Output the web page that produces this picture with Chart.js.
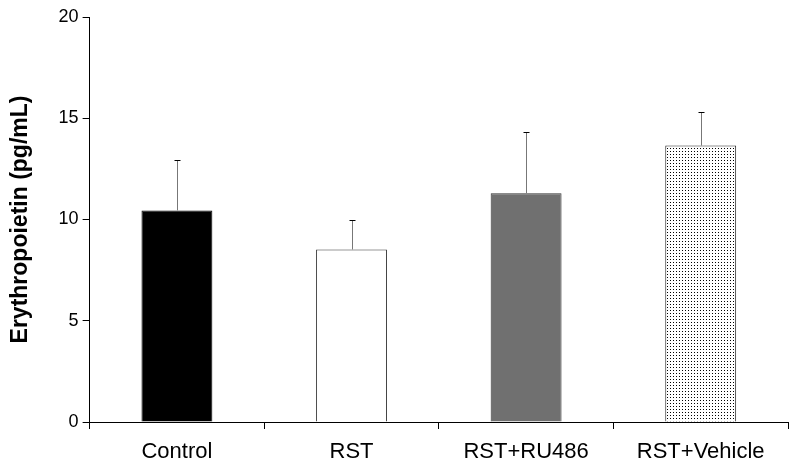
<!DOCTYPE html>
<html>
<head>
<meta charset="utf-8">
<script src="https://cdn.jsdelivr.net/npm/chart.js@4"></script>
<style>
  body { margin: 0; background: #fff; }
  #wrap { width: 797px; height: 467px; }
</style>
</head>
<body>
<div id="wrap"><canvas id="chart"></canvas></div>
<script>
var groups = ["Control", "RST", "RST+RU486", "RST+Vehicle"];
var means = [10.45, 8.52, 11.3, 13.65];
var errors = [2.5, 1.45, 3.02, 1.65];
var yTicks = [0, 5, 10, 15, 20];

// dotted fill for the last bar
function dots() {
  var c = document.createElement("canvas");
  c.width = 3; c.height = 3;
  var g = c.getContext("2d");
  g.fillStyle = "#fff";
  g.fillRect(0, 0, 3, 3);
  g.fillStyle = "#000";
  g.fillRect(1, 1, 1, 1);
  return g.createPattern(c, "repeat");
}
var ctx = document.getElementById("chart").getContext("2d");
var fills = ["#000000", "#ffffff", "#707070", dots()];

var errorBars = {
  id: "errorBars",
  afterDatasetsDraw: function(chart) {
    var c = chart.ctx;
    var meta = chart.getDatasetMeta(0);
    var y = chart.scales.y;
    c.save();
    c.lineWidth = 1;
    meta.data.forEach(function(bar, i) {
      var x = Math.round(bar.x) + 0.5;
      var yTop = Math.round(y.getPixelForValue(means[i] + errors[i])) + 0.5;
      var yBase = y.getPixelForValue(means[i]);
      c.strokeStyle = "#777";
      c.beginPath();
      c.moveTo(x, yBase);
      c.lineTo(x, yTop);
      c.stroke();
      c.strokeStyle = "#000";
      c.beginPath();
      c.moveTo(x - 3, yTop);
      c.lineTo(x + 3, yTop);
      c.stroke();
    });
    c.restore();
  }
};

new Chart(ctx, {
  type: "bar",
  data: {
    labels: groups,
    datasets: [{
      data: means,
      backgroundColor: fills,
      borderColor: ["#000", "#333", "#333", "#222"],
      borderWidth: 1,
      barPercentage: 0.406,
      categoryPercentage: 1.0
    }]
  },
  options: {
    responsive: true,
    maintainAspectRatio: false,
    animation: false,
    layout: { padding: { top: 17, right: 9, left: 7, bottom: 0 } },
    plugins: {
      legend: { display: false },
      tooltip: { enabled: false }
    },
    scales: {
      x: {
        grid: { drawOnChartArea: false, color: "#000", tickLength: 7, offset: true },
        border: { color: "#000", width: 1 },
        ticks: { color: "#000", font: { family: "Liberation Sans, Arial", size: 22 }, padding: 10 },
        afterFit: function(scale) { scale.height = 45; }
      },
      y: {
        min: 0,
        max: 20,
        afterBuildTicks: function(axis) {
          axis.ticks = yTicks.map(function(v) { return { value: v }; });
        },
        grid: { drawOnChartArea: false, color: "#000", tickLength: 7 },
        border: { color: "#000", width: 1 },
        ticks: { color: "#000", font: { family: "Liberation Sans, Arial", size: 18 }, padding: 4 },
        title: {
          display: true,
          text: "Erythropoietin (pg/mL)",
          color: "#000",
          font: { family: "Liberation Sans, Arial", size: 23, weight: "bold" },
          padding: { top: 0, bottom: 20 }
        }
      }
    }
  },
  plugins: [errorBars]
});
</script>
</body>
</html>
